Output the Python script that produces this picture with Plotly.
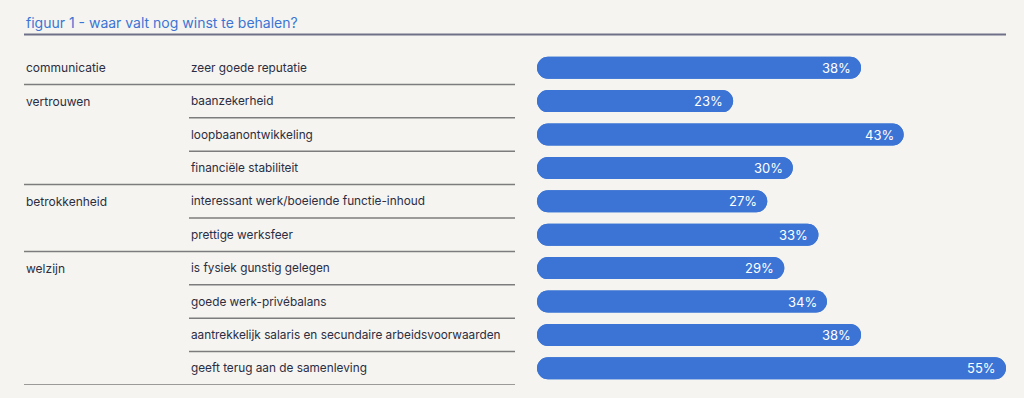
import plotly.graph_objects as go

title = "figuur 1 - waar valt nog winst te behalen?"
groups = ["communicatie", "vertrouwen", "vertrouwen", "vertrouwen",
          "betrokkenheid", "betrokkenheid",
          "welzijn", "welzijn", "welzijn", "welzijn"]
items = ["zeer goede reputatie", "baanzekerheid", "loopbaanontwikkeling",
         "financiële stabiliteit", "interessant werk/boeiende functie-inhoud",
         "prettige werksfeer", "is fysiek gunstig gelegen",
         "goede werk-privébalans",
         "aantrekkelijk salaris en secundaire arbeidsvoorwaarden",
         "geeft terug aan de samenleving"]
values = [38, 23, 43, 30, 27, 33, 29, 34, 38, 55]

W, H = 1024, 398
BG = "#f5f4f0"
BLUE = "#3b74d4"
TEXT = "#2b2d42"
RULE = "#7c7c7c"
FONT = "Inter"

x0_px, x55_px = 537, 1006
k = (x55_px - x0_px) / 55.0
xrange = [-x0_px / k, (W - x0_px) / k]

fig = go.Figure()
# pill bars: one rounded at the right end, one rounded at the left end
fig.add_trace(go.Bar(x=values, y=items, base=[0] * len(values), orientation="h",
                     marker=dict(color=BLUE, line=dict(width=0), cornerradius=11),
                     width=0.66, hoverinfo="skip", showlegend=False))
fig.add_trace(go.Bar(x=[-v for v in values], y=items, base=values, orientation="h",
                     marker=dict(color=BLUE, line=dict(width=0), cornerradius=11),
                     width=0.66, hoverinfo="skip", showlegend=False))

ann = []
for it, v in zip(items, values):
    ann.append(dict(x=v, y=it, xref="x", yref="y", text=f"{v}%", showarrow=False,
                    xanchor="right", xshift=-8, font=dict(family=FONT, size=13, color="white")))
shapes = []
prev = None
for i, (g, it) in enumerate(zip(groups, items)):
    if g != prev:
        ann.append(dict(x=24 / W, y=it, xref="paper", yref="y", text=g, showarrow=False,
                        xanchor="left", font=dict(family=FONT, size=12, color=TEXT)))
    ann.append(dict(x=189 / W, y=it, xref="paper", yref="y", text=it, showarrow=False,
                    xanchor="left", font=dict(family=FONT, size=11.8, color=TEXT)))
    last = (i == len(groups) - 1) or groups[i + 1] != g
    shapes.append(dict(type="line", xref="paper", yref="y",
                       x0=(24 if last else 189) / W, x1=515 / W, y0=i + 0.5, y1=i + 0.5,
                       line=dict(color=RULE, width=1.5)))
    prev = g

T, B = 51, 13
plot_h = H - T - B
ann.append(dict(x=24 / W, y=1 + (T - 22) / plot_h, xref="paper", yref="paper",
                text=title, showarrow=False, xanchor="left", yanchor="middle",
                font=dict(family=FONT, size=14, color=BLUE)))
ry = 1 + (T - 34.5) / plot_h
shapes.append(dict(type="line", xref="paper", yref="paper", x0=24 / W, x1=1006 / W,
                   y0=ry, y1=ry, line=dict(color="#6e7088", width=2)))

fig.update_layout(
    width=W, height=H, paper_bgcolor=BG, plot_bgcolor=BG,
    margin=dict(l=0, r=0, t=T, b=B),
    barmode="overlay",
    xaxis=dict(range=xrange, visible=False, fixedrange=True),
    yaxis=dict(type="category", range=[9.5, -0.5], visible=False, fixedrange=True),
    annotations=ann, shapes=shapes,
)

fig.write_html("out.html")
